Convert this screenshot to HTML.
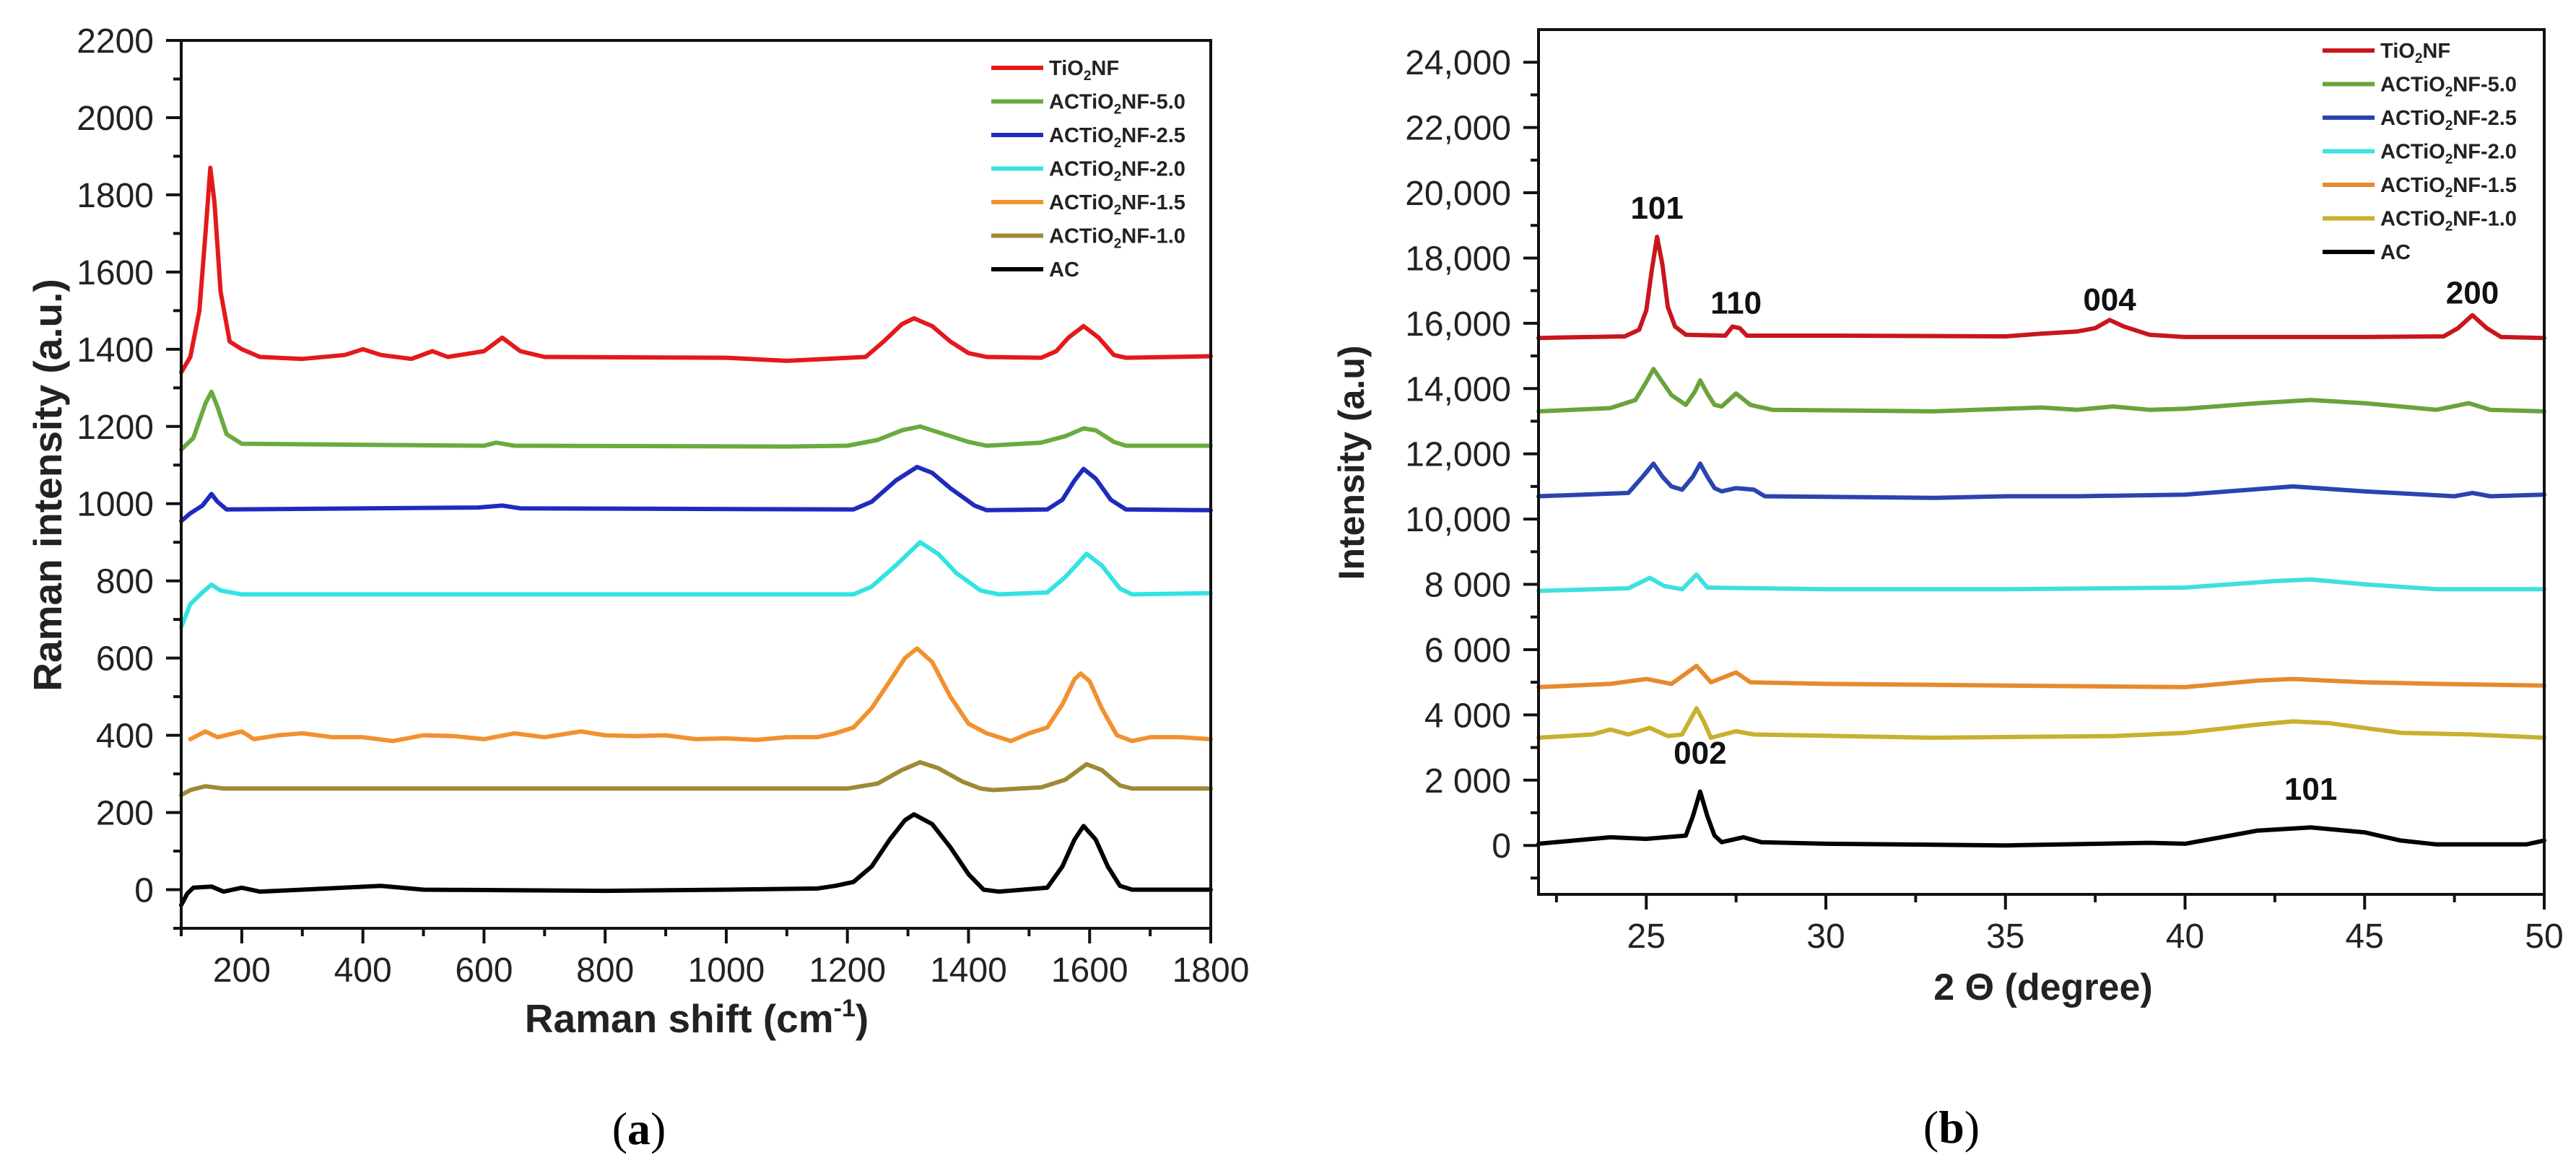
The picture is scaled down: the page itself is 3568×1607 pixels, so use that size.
<!DOCTYPE html>
<html><head><meta charset="utf-8"><style>
html,body{margin:0;padding:0;background:#fff;}
svg{display:block;font-family:"Liberation Sans",Arial,sans-serif;}
</style></head><body>
<svg id="fig" width="3568" height="1607" viewBox="0 0 3568 1607" xmlns="http://www.w3.org/2000/svg">
<g id="left"></g>
<g id="right"></g>
</svg>
<script>
// ---------- Data: Raman (a) ----------
const ramanNames = ["TiO2NF","ACTiO2NF-5.0","ACTiO2NF-2.5","ACTiO2NF-2.0","ACTiO2NF-1.5","ACTiO2NF-1.0","AC"];
const ramanColors = ["#e3191c","#6aab3f","#1f2bbd","#33e3e3","#f29130","#9e8a35","#000000"];
const ramanTiO2 = [[100,1340],[115,1380],[130,1500],[140,1700],[148,1870],[155,1780],[165,1550],[180,1420],[200,1400],[230,1380],[300,1375],[370,1385],[400,1400],[430,1385],[480,1375],[515,1395],[540,1380],[600,1395],[630,1430],[660,1395],[700,1380],[1000,1378],[1100,1370],[1230,1380],[1260,1420],[1290,1465],[1310,1480],[1340,1460],[1370,1420],[1400,1390],[1430,1380],[1520,1378],[1545,1395],[1565,1430],[1590,1460],[1615,1430],[1640,1385],[1660,1378],[1800,1382]];
const raman50 = [[100,1140],[120,1170],[140,1260],[150,1290],[160,1250],[175,1180],[200,1155],[600,1150],[620,1158],[650,1150],[1100,1148],[1200,1150],[1250,1165],[1290,1190],[1320,1200],[1350,1185],[1400,1160],[1430,1150],[1520,1158],[1560,1175],[1590,1195],[1610,1190],[1640,1160],[1660,1150],[1800,1150]];
const raman25 = [[100,955],[115,975],[135,995],[150,1025],[160,1005],[175,985],[590,990],[630,995],[660,988],[1210,985],[1240,1005],[1280,1060],[1315,1095],[1340,1080],[1370,1040],[1410,995],[1430,983],[1530,985],[1555,1010],[1575,1060],[1590,1090],[1610,1065],[1635,1010],[1660,985],[1800,983]];
const raman20 = [[100,680],[115,740],[135,770],[150,790],[165,775],[200,765],[1210,765],[1240,785],[1280,840],[1320,900],[1350,870],[1380,820],[1420,775],[1450,765],[1530,770],[1560,810],[1595,870],[1620,840],[1650,780],[1670,765],[1800,768]];
const raman15 = [[115,390],[140,410],[160,395],[200,410],[220,390],[260,400],[300,405],[350,395],[400,395],[450,385],[500,400],[550,398],[600,390],[650,405],[700,395],[760,410],[800,400],[850,398],[900,400],[950,390],[1000,392],[1050,388],[1100,395],[1150,395],[1180,405],[1210,420],[1240,470],[1270,540],[1295,600],[1315,625],[1340,590],[1370,500],[1400,430],[1430,405],[1470,385],[1500,405],[1530,420],[1555,480],[1575,545],[1585,560],[1600,540],[1620,470],[1645,400],[1670,385],[1700,395],[1750,395],[1800,390]];
const raman10 = [[100,245],[115,258],[140,268],[170,262],[1200,262],[1250,275],[1290,310],[1320,330],[1350,315],[1390,280],[1420,262],[1440,258],[1520,265],[1560,285],[1595,325],[1620,310],[1650,270],[1670,262],[1800,262]];
const ramanAC = [[100,-40],[110,-10],[120,5],[150,8],[170,-5],[200,5],[230,-5],[300,0],[430,10],[500,0],[800,-3],[1000,0],[1150,3],[1180,10],[1210,20],[1240,60],[1270,130],[1295,180],[1310,195],[1340,170],[1370,110],[1400,40],[1425,0],[1450,-5],[1530,5],[1555,60],[1575,130],[1590,165],[1610,130],[1630,60],[1650,10],[1670,0],[1800,0]];
const ramanSeries = [ramanTiO2,raman50,raman25,raman20,raman15,raman10,ramanAC];
const ramanXTicks = [200,400,600,800,1000,1200,1400,1600,1800];
const ramanYTicks = [0,200,400,600,800,1000,1200,1400,1600,1800,2000,2200];

// ---------- Data: XRD (b) ----------
const xrdNames = ["TiO2NF","ACTiO2NF-5.0","ACTiO2NF-2.5","ACTiO2NF-2.0","ACTiO2NF-1.5","ACTiO2NF-1.0","AC"];
const xrdColors = ["#c8161d","#6aa33c","#2a44b0","#3fe0e0","#e68a2e","#c9b02e","#000000"];
const xrdTiO2 = [[22,15550],[24.4,15600],[24.8,15800],[25.0,16400],[25.15,17600],[25.3,18650],[25.45,17800],[25.6,16500],[25.8,15900],[26.1,15650],[27.2,15620],[27.4,15900],[27.6,15850],[27.8,15620],[30,15620],[35,15600],[36,15680],[37,15750],[37.5,15850],[37.9,16100],[38.3,15900],[39,15650],[40,15580],[45,15580],[47.2,15600],[47.6,15850],[48,16250],[48.4,15850],[48.8,15580],[50,15550]];
const xrd50 = [[22,13300],[24,13400],[24.7,13650],[25.0,14200],[25.2,14600],[25.45,14200],[25.7,13800],[26.1,13500],[26.35,13900],[26.5,14250],[26.7,13850],[26.9,13500],[27.1,13450],[27.5,13850],[27.9,13500],[28.5,13350],[33,13300],[36,13420],[37,13350],[38,13450],[39,13350],[40,13380],[42,13550],[43.5,13650],[45,13550],[47,13350],[47.9,13550],[48.5,13350],[50,13300]];
const xrd25 = [[22,10700],[24.5,10800],[24.9,11300],[25.2,11700],[25.45,11300],[25.7,11000],[26,10900],[26.3,11300],[26.5,11700],[26.7,11300],[26.9,10950],[27.1,10850],[27.5,10950],[28,10900],[28.3,10700],[33,10650],[35,10700],[37,10700],[40,10750],[43,11000],[45,10850],[47.5,10700],[48,10800],[48.5,10700],[50,10750]];
const xrd20 = [[22,7800],[24.5,7880],[25.1,8200],[25.5,7950],[26,7850],[26.4,8300],[26.7,7900],[30,7850],[35,7850],[40,7900],[42.5,8100],[43.5,8150],[45,8000],[47,7850],[50,7850]];
const xrd15 = [[22,4850],[24,4950],[25,5100],[25.7,4950],[26.4,5500],[26.8,5000],[27.5,5300],[27.9,5000],[30,4950],[35,4900],[40,4850],[42,5050],[43,5100],[45,5000],[47,4950],[50,4900]];
const xrd10 = [[22,3300],[23.5,3400],[24,3550],[24.5,3400],[25.1,3600],[25.6,3350],[26,3400],[26.2,3800],[26.4,4200],[26.6,3800],[26.8,3300],[27.5,3500],[28,3400],[33,3300],[38,3350],[40,3450],[42,3700],[43,3800],[44,3750],[46,3450],[48,3400],[50,3300]];
const xrdAC = [[22,50],[23,150],[24,250],[25,200],[26.1,300],[26.3,900],[26.5,1650],[26.7,900],[26.9,300],[27.1,100],[27.7,250],[28.2,100],[30,50],[35,0],[39,80],[40,50],[41,250],[42,450],[43.5,550],[45,400],[46,150],[47,30],[49.5,30],[50,150]];
const xrdSeries = [xrdTiO2,xrd50,xrd25,xrd20,xrd15,xrd10,xrdAC];
const xrdXTicks = [25,30,35,40,45,50];
const xrdYTicks = [0,2000,4000,6000,8000,10000,12000,14000,16000,18000,20000,22000,24000];
const xrdYLabels = ["0","2 000","4 000","6 000","8 000","10,000","12,000","14,000","16,000","18,000","20,000","22,000","24,000"];
const xrdPeakLabels = ["101","110","004","200","002","101"];
const xrdPeakX = [25.3,27.5,37.9,48.0,26.5,43.5];
const xrdPeakY = [19200,16300,16400,16600,2500,1400];

const NS="http://www.w3.org/2000/svg";
function mk(parent,tag,attrs,text){const e=document.createElementNS(NS,tag);for(const k in attrs)e.setAttribute(k,attrs[k]);if(text!==undefined)e.textContent=text;parent.appendChild(e);return e;}

function drawChart(g,cfg){
  const sx=v=>cfg.x0+(v-cfg.xmin)/(cfg.xmax-cfg.xmin)*(cfg.x1-cfg.x0);
  const sy=v=>cfg.y1-(v-cfg.ymin)/(cfg.ymax-cfg.ymin)*(cfg.y1-cfg.y0);
  cfg.series.forEach((s,i)=>{
    const p=mk(g,"polyline",{points:s.map(d=>sx(d[0]).toFixed(1)+","+sy(d[1]).toFixed(1)).join(" "),fill:"none",stroke:cfg.colors[i],"stroke-width":6,"stroke-linejoin":"round","stroke-linecap":"round"});
    
    
  });
  const fr=mk(g,"rect",{x:cfg.x0,y:cfg.y0,width:cfg.x1-cfg.x0,height:cfg.y1-cfg.y0,fill:"none",stroke:"#111","stroke-width":4});
  
  
  cfg.xticks.forEach(v=>{
    mk(g,"line",{x1:sx(v),y1:cfg.y1,x2:sx(v),y2:cfg.y1+21,stroke:"#111","stroke-width":4});
    const t=mk(g,"text",{x:sx(v),y:cfg.y1+74,"font-size":48,"text-anchor":"middle",fill:"#222"},String(v));
    
    
  });
  cfg.xminor.forEach(v=>mk(g,"line",{x1:sx(v),y1:cfg.y1,x2:sx(v),y2:cfg.y1+11,stroke:"#111","stroke-width":4}));
  cfg.yticks.forEach((v,i)=>{
    mk(g,"line",{x1:cfg.x0-21,y1:sy(v),x2:cfg.x0,y2:sy(v),stroke:"#111","stroke-width":4});
    const t=mk(g,"text",{x:cfg.ylabx,y:sy(v)+17,"font-size":48,"text-anchor":"end",fill:"#222"},cfg.ylabels[i]);
    
    
  });
  cfg.yminor.forEach(v=>mk(g,"line",{x1:cfg.x0-11,y1:sy(v),x2:cfg.x0,y2:sy(v),stroke:"#111","stroke-width":4}));
  cfg.names.forEach((n,i)=>{
    const y=cfg.legY+i*cfg.legDy;
    const l=mk(g,"line",{x1:cfg.legX,y1:y,x2:cfg.legX+72,y2:y,stroke:cfg.colors[i],"stroke-width":6});
    
    
    const t=mk(g,"text",{x:cfg.legX+80,y:y+10,"font-size":29,"font-weight":"bold",fill:"#222"});
    
    
    if(n.indexOf("TiO2")>=0){
      const parts=n.split("TiO2");
      mk(t,"tspan",{},parts[0]+"TiO");
      mk(t,"tspan",{"font-size":19,dy:7},"2");
      mk(t,"tspan",{dy:-7},"NF"+parts[1].replace("NF",""));
    } else t.textContent=n;
  });
  return {sx,sy};
}

const L=document.getElementById("left");
drawChart(L,{x0:251,x1:1677,y0:56,y1:1286,xmin:100,xmax:1800,ymin:-100,ymax:2200,
  series:ramanSeries,colors:ramanColors,names:ramanNames,
  xticks:ramanXTicks,xminor:[100,300,500,700,900,1100,1300,1500,1700],
  yticks:ramanYTicks,ylabels:ramanYTicks.map(String),yminor:[-100,100,300,500,700,900,1100,1300,1500,1700,1900,2100],
  ylabx:213,legX:1373,legY:94,legDy:46.5});
let t;
t=mk(L,"text",{x:66,y:672,"font-size":55,"font-weight":"bold","text-anchor":"middle",transform:"rotate(-90 66 672) translate(0 19)",fill:"#222"},"Raman intensity (a.u.)");


t=mk(L,"text",{x:965,y:1430,"font-size":55,"font-weight":"bold","text-anchor":"middle",fill:"#222"});
mk(t,"tspan",{},"Raman shift (cm");
mk(t,"tspan",{"font-size":34,dy:-22},"-1");
mk(t,"tspan",{dy:22},")");


t=mk(L,"text",{x:885,y:1585,"font-size":64,"text-anchor":"middle","font-family":"Liberation Serif, serif",fill:"#000"});
mk(t,"tspan",{},"(");mk(t,"tspan",{"font-weight":"bold"},"a");mk(t,"tspan",{},")");



const R=document.getElementById("right");
const ax=drawChart(R,{x0:2131,x1:3524,y0:41,y1:1239,xmin:22,xmax:50,ymin:-1500,ymax:25000,
  series:xrdSeries,colors:xrdColors,names:xrdNames,
  xticks:xrdXTicks,xminor:[22.5,27.5,32.5,37.5,42.5,47.5],
  yticks:xrdYTicks,ylabels:xrdYLabels,yminor:[-1000,1000,3000,5000,7000,9000,11000,13000,15000,17000,19000,21000,23000],
  ylabx:2093,legX:3217,legY:70,legDy:46.5});
xrdPeakLabels.forEach((s,i)=>{
  const e=mk(R,"text",{x:ax.sx(xrdPeakX[i]),y:ax.sy(xrdPeakY[i]),"font-size":44,"font-weight":"bold","text-anchor":"middle",fill:"#111"},s);
  
  
});
t=mk(R,"text",{x:1872,y:641,"font-size":50,"font-weight":"bold","text-anchor":"middle",transform:"rotate(-90 1872 641) translate(0 17)",fill:"#222"},"Intensity (a.u)");


t=mk(R,"text",{x:2830,y:1385,"font-size":52,"font-weight":"bold","text-anchor":"middle",fill:"#222"},"2 Θ (degree)");


t=mk(R,"text",{x:2703,y:1583,"font-size":64,"text-anchor":"middle","font-family":"Liberation Serif, serif",fill:"#000"});
mk(t,"tspan",{},"(");mk(t,"tspan",{"font-weight":"bold"},"b");mk(t,"tspan",{},")");


</script>
</body></html>
